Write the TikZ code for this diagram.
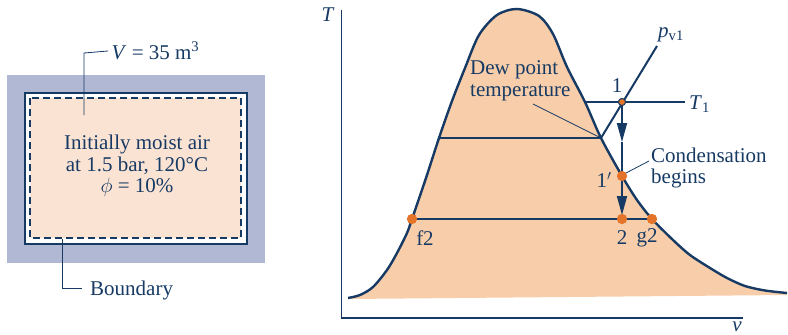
\documentclass[tikz,border=0pt]{standalone}
\usepackage{fontspec}
\setmainfont{Liberation Serif}
\usetikzlibrary{arrows.meta}
\definecolor{navy}{HTML}{163A64}
\definecolor{dome}{HTML}{F7CDAA}
\definecolor{boxfill}{HTML}{FBE3D3}
\definecolor{framecol}{HTML}{B1B8D3}
\definecolor{dotcol}{HTML}{E3742A}
\begin{document}
\begin{tikzpicture}[x=1pt,y=-1pt,
  font=\fontsize{21}{21.5}\selectfont,
  lbl/.style={text=navy, inner sep=0pt},
  leader/.style={draw=navy, line width=0.8pt},
  stateline/.style={draw=navy, line width=2pt},
  axisline/.style={draw=navy, line width=1.2pt},
  odot/.style={circle, fill=dotcol, minimum size=10pt, inner sep=0pt},
  tip/.style={-{Triangle[length=19pt,width=10pt]}}
]
\useasboundingbox (0,0) rectangle (788,335);

% ---------- left: tank ----------
\fill[framecol] (7,75) rectangle (265,263);
\filldraw[fill=white, draw=navy, line width=1.5pt] (25,93) rectangle (247,244);
\filldraw[fill=boxfill, draw=navy, line width=1.3pt, dash pattern=on 7pt off 4pt] (30,98) rectangle (241,238);
\node[lbl, align=center] (txt) at (137,166) {Initially moist air\\at 1.5 bar, 120°C\\$\phi$ = 10\%};

\coordinate (vfoot) at (84,115);
\coordinate (vknee) at (84,53);
\node[lbl, anchor=west, inner xsep=3.5pt] (vlab) at (108,51) {\textit{V} = 35 m\textsuperscript{3}};
\draw[leader] (vfoot) -- (vknee) -- (vlab.west);

\coordinate (bfoot) at (62,239);
\coordinate (bknee) at (62,288);
\node[lbl, anchor=west, inner xsep=8pt] (blab) at (82,290) {Boundary};
\draw[leader] (bfoot) -- (bknee) -- (bknee -| blab.west);

% ---------- right: T-v diagram ----------
\coordinate (ytop) at (341.7,10);
\coordinate (orig) at (341.7,318);
\coordinate (xend) at (743,318);
\draw[axisline] (ytop) -- (orig) -- (xend);
\node[lbl] (Tlab) at (328,15) {\textit{T}};
\node[lbl] (vax) at (737,327) {\textit{v}};

\def\domepts{(348,298) (360,295) (373,287) (387,270) (397,253) (407,233) (412,219) (426,178) (439,138) (452,101) (465,68) (479,35) (497,15) (517,9) (539,16) (553,34) (567,67) (585,102) (601,138) (622,176) (637,200) (652,219) (673,240) (690,255) (710,268) (727,278) (745,286) (765,290.5) (787,293)}
\fill[dome] plot[smooth, tension=0.5] coordinates {\domepts} -- (787,295) -- (348,299) -- cycle;
\draw[navy, line width=2.4pt] plot[smooth, tension=0.5] coordinates {\domepts};

% state points
\coordinate (t1l) at (584,102);
\coordinate (t1r) at (685,102);
\coordinate (dewl) at (439,138);
\coordinate (dew) at (601,138);
\coordinate (ptop) at (657,46);
\node[odot] (f2) at (412,219) {};
\node[odot] (g2) at (652,219) {};
\node[odot] (s2) at (622,219) {};
\node[odot] (s1p) at (622,176) {};
\coordinate (a1) at (622,142);
\coordinate (a2) at (622,215);

\draw[stateline] (t1l) -- (t1r);
\draw[stateline] (dewl) -- (dew);
\draw[stateline] (f2.center) -- (g2.center);
\draw[stateline] (dew) -- (ptop);
\node[circle, fill=dotcol, draw=navy, line width=0.9pt, minimum size=7pt, inner sep=0pt] (s1) at (622,102) {};
\draw[navy, line width=1.8pt, tip] (s1.center) -- (a1);
\draw[navy, line width=1.8pt] (a1) -- (s1p.center);
\draw[navy, line width=1.8pt, tip] (s1p.center) -- (a2);
\node[odot] at (s1p) {};
\node[odot] at (s2) {};
\node[odot] at (f2) {};
\node[odot] at (g2) {};
\node[circle, fill=dotcol, draw=navy, line width=0.9pt, minimum size=7pt, inner sep=0pt] at (s1) {};

% labels
\node[lbl] (l1) at (617,86) {1};
\node[lbl, anchor=west] (lT1) at (689,104) {\textit{T}\textsubscript{1}};
\node[lbl, anchor=west] (lpv) at (658,35) {\textit{p}\textsubscript{v1}};
\node[lbl] (l1p) at (604,180) {1$'$};
\node[lbl] (lf2) at (425,238) {f2};
\node[lbl] (l2) at (622,238) {2};
\node[lbl] (lg2) at (647,238) {g2};

\node[lbl, align=left, anchor=west] (dewlab) at (470,81) {Dew point\\temperature};
\coordinate (dewfoot) at (533,104);
\draw[leader] (dewfoot) -- (dew);

\node[lbl, align=left, anchor=west] (cond) at (651,168) {Condensation\\begins};
\coordinate (condstart) at (649,161);
\coordinate (condend) at (626,173);
\draw[leader] (condstart) -- (condend);
\end{tikzpicture}
\end{document}
